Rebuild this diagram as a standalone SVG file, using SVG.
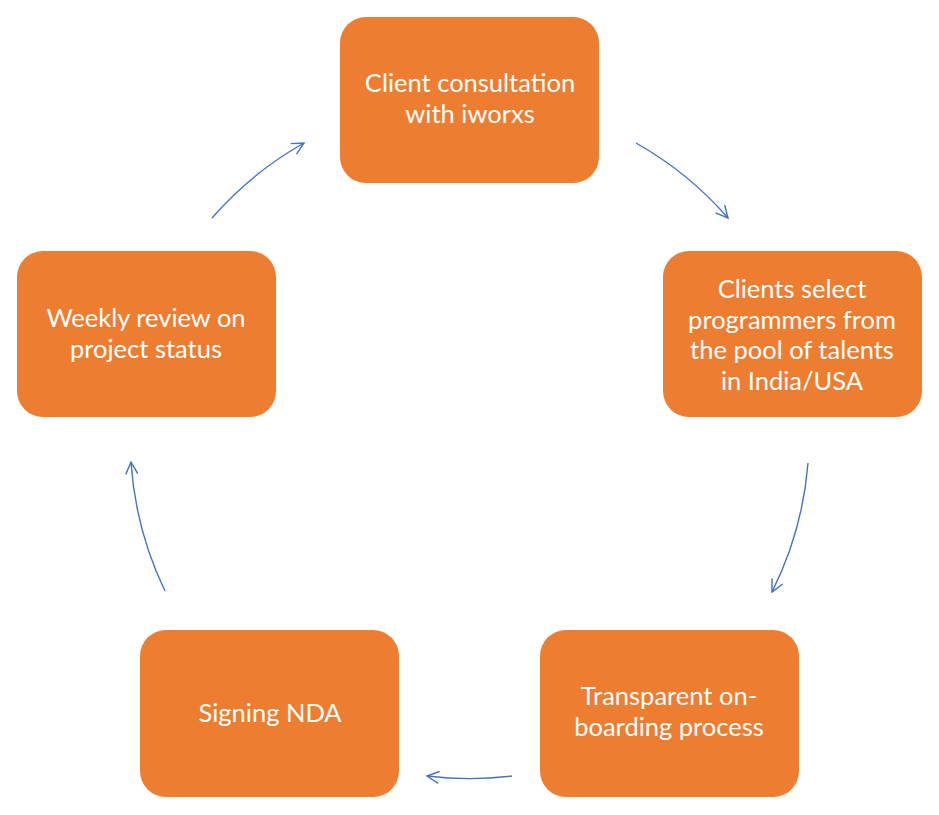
<svg xmlns="http://www.w3.org/2000/svg" width="939" height="815" viewBox="0 0 939 815">
<defs>
<marker id="ah" viewBox="0 0 14 14" refX="13" refY="7" markerWidth="14" markerHeight="14" markerUnits="userSpaceOnUse" orient="auto">
<path d="M1,1 L13,7 L1,13" fill="none" stroke="#4472C4" stroke-width="1.4"/>
</marker>
<style>
.box{fill:#ED7D31;}
.t{font-family:Lato,"Liberation Sans",sans-serif;font-size:25.5px;fill:#FFFFFF;text-anchor:middle;}
.c{fill:none;stroke:#4472C4;stroke-width:1.4;marker-end:url(#ah);}
</style>
</defs>
<rect width="939" height="815" fill="#FFFFFF"/>
<g id="connectors">
<path class="c" d="M212,218 A350,350 0 0 1 304,143"/>
<path class="c" d="M636,143 A350,350 0 0 1 728,218"/>
<path class="c" d="M808,463 A350,350 0 0 1 772,592"/>
<path class="c" d="M512,776 A350,350 0 0 1 427,776"/>
<path class="c" d="M165,591 A350,350 0 0 1 131,462"/>
</g>
<g id="n1">
<rect class="box" x="340" y="17" width="259" height="166" rx="26"/>
<text class="t" x="470" y="92">Client consultation</text>
<text class="t" x="470" y="123">with iworxs</text>
</g>
<g id="n2">
<rect class="box" x="663" y="251" width="259" height="166" rx="26"/>
<text class="t" x="792" y="298">Clients select</text>
<text class="t" x="792" y="329">programmers from</text>
<text class="t" x="792" y="359">the pool of talents</text>
<text class="t" x="792" y="390">in India/USA</text>
</g>
<g id="n3">
<rect class="box" x="540" y="630" width="259" height="167" rx="26"/>
<text class="t" x="669" y="705">Transparent on-</text>
<text class="t" x="669" y="736">boarding process</text>
</g>
<g id="n4">
<rect class="box" x="140" y="630" width="259" height="167" rx="26"/>
<text class="t" x="270" y="722">Signing NDA</text>
</g>
<g id="n5">
<rect class="box" x="17" y="251" width="259" height="166" rx="26"/>
<text class="t" x="146" y="327">Weekly review on</text>
<text class="t" x="146" y="358">project status</text>
</g>
</svg>
